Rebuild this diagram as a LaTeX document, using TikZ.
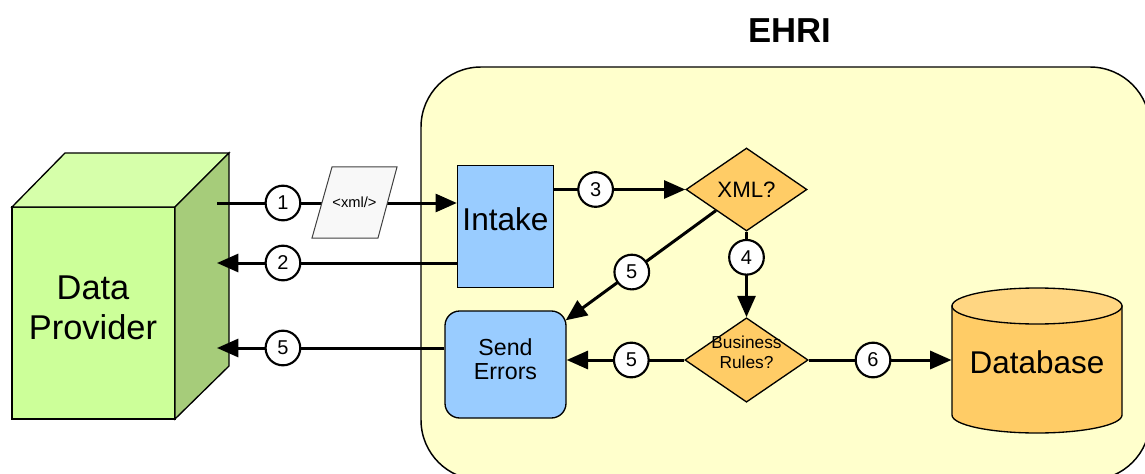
\documentclass[tikz,border=0pt]{standalone}
\usepackage{fontspec}
\setmainfont{Liberation Sans}
\usetikzlibrary{arrows.meta,shapes.geometric,calc}

\definecolor{ehriyellow}{RGB}{255,255,204}
\definecolor{boxblue}{RGB}{153,204,255}
\definecolor{decorange}{RGB}{255,204,102}
\definecolor{dbtop}{RGB}{255,214,130}
\definecolor{cubefront}{RGB}{204,255,153}
\definecolor{cubetop}{RGB}{214,255,170}
\definecolor{cubeside}{RGB}{166,204,122}
\definecolor{docgrey}{RGB}{248,248,248}

\tikzset{every picture/.style={line width=0.75pt}}
\tikzset{
  flow/.style={line width=2.25pt,-{Triangle[length=16pt,width=13.5pt]}},
  numc/.style={circle,draw,fill=white,line width=1.6pt,minimum size=26pt,inner sep=0pt,font=\fontsize{15}{16}\selectfont},
  stepbox/.style={draw,fill=boxblue,line width=1pt,inner sep=0pt,align=center},
  decision/.style={diamond,draw,fill=decorange,line width=1pt,inner sep=0pt,aspect=1.46,minimum width=90.75pt,minimum height=62.25pt,align=center},
}

\begin{document}
\begin{tikzpicture}[x=0.75pt,y=0.75pt,yscale=-1,xscale=1]
\useasboundingbox (0,0) rectangle (1145,474);

%Shape: Rounded Rect [id:ehri]
\begin{scope}
\clip (0,0) rectangle (1145,474);
\draw [fill=ehriyellow,line width=1.1pt,rounded corners=45pt] (421,67) rectangle (1150,480);
\end{scope}
% Text Node
\node [font=\bfseries\fontsize{26}{30}\selectfont] (ehri) at (790,31) {EHRI};

%Shape: Cube [id:provider]
\draw [fill=cubefront,line width=1pt] (12,207) rectangle (175,419);
\draw [fill=cubetop,line width=1pt] (12,207) -- (65,153) -- (229,153) -- (175,207) -- cycle;
\draw [fill=cubeside,line width=1pt] (175,207) -- (229,153) -- (229,366) -- (175,419) -- cycle;
% Text Node
\node [align=center,font=\fontsize{25.8}{30}\selectfont] (dp) at (93,308) {Data\\Provider};
\coordinate (dpa) at (217,203);
\coordinate (dpb) at (217,263);
\coordinate (dpc) at (217,348);

%Shape: Steps
\node [stepbox,minimum width=72pt,minimum height=91.5pt,text depth=10.5pt,font=\fontsize{23.7}{28}\selectfont] (intake) at (505.5,226.5) {Intake};
\node [stepbox,rounded corners=11pt,minimum width=90.75pt,minimum height=80.25pt,font=\fontsize{17.4}{18}\selectfont] (se) at (505.5,364.5) {Send\\Errors\\[-10pt]\mbox{}};
\node [decision,font=\fontsize{16.7}{18}\selectfont] (xml) at (746.5,189.5) {XML?};
\node [decision,inner xsep=-6pt,font=\fontsize{13}{15}\selectfont] (bus) at (746.5,360) {Business\\Rules?\\[-4pt]\mbox{}};

%Shape: Can [id:database]
\draw [fill=decorange,line width=1pt] (952,306) -- (952,415) arc [start angle=180,end angle=0,x radius=85,y radius=18] -- (1122,306) -- cycle;
\draw [fill=dbtop,line width=1pt] (1037,306) ellipse [x radius=85,y radius=18];
\node [inner sep=0pt,minimum width=127.5pt,minimum height=108.75pt,font=\fontsize{23.6}{28}\selectfont] (db) at (1037,362) {Database};

%Straight Lines
\draw [flow] (dpa) -- node [numc,pos=0.275] (n1) {1} (dpa -| intake.west);
\draw [flow] (intake.west |- dpb) -- node [numc,pos=0.725] (n2) {2} (dpb);
\draw [flow] (se.west |- dpc) -- node [numc,pos=0.71] (n5a) {5} (dpc);
\draw [flow] (intake.east |- xml.west) -- node [numc,pos=0.316] (n3) {3} (xml.west);
\draw [flow] (xml.south) -- node [numc,pos=0.3] (n4) {4} (bus.north);
\draw [flow] (xml.south west) -- node [numc,pos=0.56] (n5b) {5} ($(se.north east)+(-1,10)$);
\draw [flow] (bus.west) -- node [numc,pos=0.45] (n5c) {5} (bus.west -| se.east);
\draw [flow] (bus.east) -- node [numc,pos=0.45] (n6) {6} (bus.east -| db.west);

%Shape: Parallelogram [id:xmldoc]
\draw [draw=black!75,fill=docgrey,line width=0.75pt] (312,238) -- (332,167) -- (397,167) -- (378,238) -- cycle;
% Text Node
\node [inner sep=0pt,font=\fontsize{11}{12}\selectfont] (doc) at (354.5,202.5) {<xml/>};

\end{tikzpicture}
\end{document}
